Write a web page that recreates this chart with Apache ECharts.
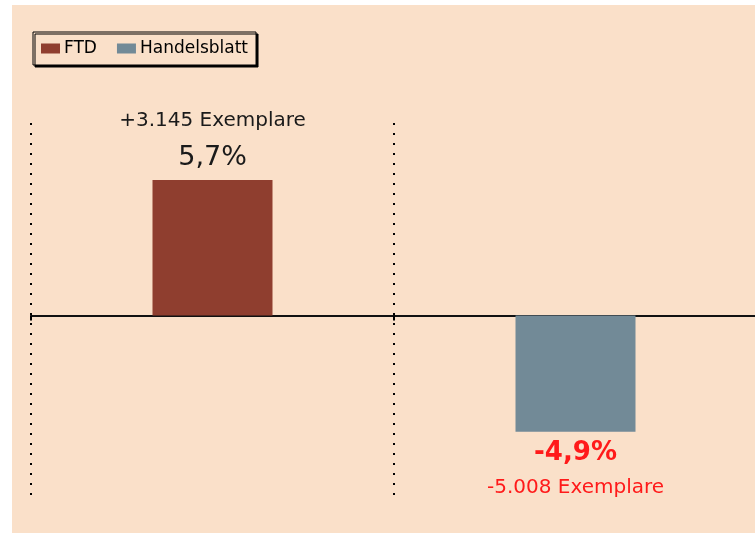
<!DOCTYPE html>
<html>
<head>
<meta charset="utf-8">
<script src="https://cdn.jsdelivr.net/npm/echarts@6/dist/echarts.min.js"></script>
<style>
  html, body { margin: 0; padding: 0; background: #ffffff; }
  #chart { width: 755px; height: 533px; }
</style>
</head>
<body>
<div id="chart"></div>
<script>
// Daten
const categories = ["FTD", "Handelsblatt"];
const seriesNames = ["FTD", "Handelsblatt"];
const ftdValues = [5.7, "-"];
const hbValues = ["-", -4.9];
const pctLabels = ["5,7%", "-4,9%"];
const copyLabels = ["+3.145 Exemplare", "-5.008 Exemplare"];

const chart = echarts.init(document.getElementById("chart"));

chart.setOption({
  animation: false,
  backgroundColor: "#ffffff",
  textStyle: { fontFamily: "DejaVu Sans, Liberation Sans, sans-serif" },
  graphic: [
    {
      type: "rect",
      z: -10,
      shape: { x: 12, y: 5, width: 750, height: 535 },
      style: { fill: "#fae0c9" },
      silent: true,
    },
  ],
  legend: {
    data: seriesNames,
    left: 33,
    top: 32,
    orient: "horizontal",
    selectedMode: false,
    icon: "rect",
    itemWidth: 19,
    itemHeight: 10,
    itemGap: 20,
    padding: [8, 8, 8, 8],
    backgroundColor: "#fae0c9",
    borderColor: "#000",
    borderWidth: 1,
    shadowColor: "#000",
    shadowBlur: 0,
    shadowOffsetX: 2,
    shadowOffsetY: 2,
    textStyle: { color: "#000", fontSize: 17, padding: [0, 0, 0, -1] },
  },
  grid: {
    left: 31,
    top: 123,
    width: 726,
    height: 380,
    outerBoundsMode: "none",
  },
  xAxis: {
    type: "category",
    data: categories,
    axisLine: { onZero: true, lineStyle: { color: "#111", width: 2 } },
    axisTick: { show: true, length: 5, lineStyle: { color: "#000", width: 2 } },
    axisLabel: { show: false },
    splitLine: {
      show: true,
      interval: function (i) { return i < 2; },
      lineStyle: { color: "#000", type: [2, 8], width: 2 },
    },
  },
  yAxis: {
    type: "value",
    min: -7.9,
    max: 8.1,
    show: false,
    splitLine: { show: false },
  },
  series: [
    {
      name: seriesNames[0],
      type: "bar",
      data: ftdValues,
      barWidth: 120,
      barGap: "-100%",
      itemStyle: { color: "#8f3e2f" },
      label: {
        show: true,
        position: "top",
        distance: 6,
        formatter: "{a|" + copyLabels[0] + "}\n{b|" + pctLabels[0] + "}",
        rich: {
          a: { fontSize: 20, color: "#1a1a1a", lineHeight: 42 },
          b: { fontSize: 27, color: "#1a1a1a", lineHeight: 32 },
        },
      },
    },
    {
      name: seriesNames[1],
      type: "bar",
      data: hbValues,
      barWidth: 120,
      itemStyle: { color: "#728a97" },
      label: {
        show: true,
        position: "bottom",
        distance: 5,
        formatter: "{b|" + pctLabels[1] + "}\n{a|" + copyLabels[1] + "}",
        rich: {
          a: { fontSize: 20, color: "#ff1a1a", lineHeight: 38 },
          b: { fontSize: 26, color: "#ff1a1a", fontWeight: "bold", lineHeight: 32 },
        },
      },
    },
  ],
});
</script>
</body>
</html>
